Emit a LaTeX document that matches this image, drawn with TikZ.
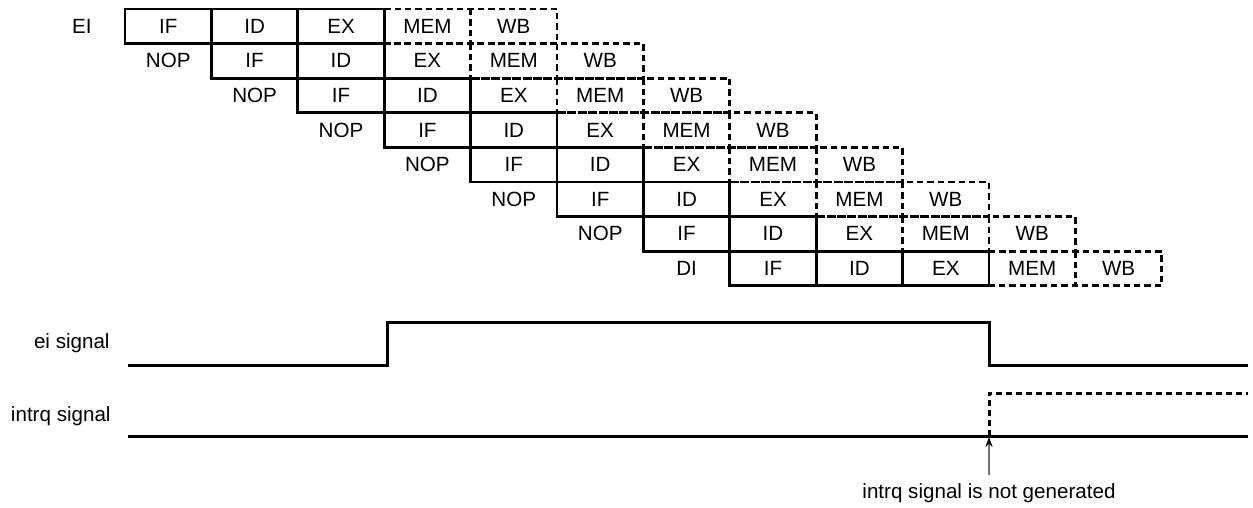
\documentclass[tikz,border=0pt]{standalone}
\usepackage{fontspec}
\setmainfont{Liberation Sans}
\usetikzlibrary{arrows.meta}
\tikzset{
  solidline/.style={line width=1.4pt, line cap=rect},
  dashline/.style={line width=1.4pt, dash pattern=on 3.2pt off 2pt},
  sigline/.style={line width=1.5pt},
  sigdash/.style={line width=1.5pt, dash pattern=on 3pt off 2pt},
  celltext/.style={inner sep=0pt, font=\fontsize{10.3}{12}\selectfont},
  sidelabel/.style={inner sep=0pt, anchor=east, font=\fontsize{10.3}{12}\selectfont},
  notearrow/.style={line width=0.7pt, draw=black!55, -{Stealth[black, length=5pt, width=3.6pt]}}
}
\begin{document}
\begin{tikzpicture}[x=0.5pt, y=-0.5pt]
\useasboundingbox (0,0) rectangle (1253,508);
\def\pw{86.4}
\def\rh{34.6}
% pipeline rows
\foreach \r/\lab in {0/EI,1/NOP,2/NOP,3/NOP,4/NOP,5/NOP,6/NOP,7/DI} {
  \pgfmathsetmacro{\xa}{125+\r*\pw}
  \pgfmathsetmacro{\xb}{\xa+\pw}
  \pgfmathsetmacro{\xc}{\xa+2*\pw}
  \pgfmathsetmacro{\xd}{\xa+3*\pw}
  \pgfmathsetmacro{\xe}{\xa+4*\pw}
  \pgfmathsetmacro{\xf}{\xa+5*\pw}
  \pgfmathsetmacro{\yt}{9+\r*\rh}
  \pgfmathsetmacro{\yb}{\yt+\rh}
  \pgfmathsetmacro{\ym}{\yt+\rh/2}
  % dashed part
  \ifnum\r=0
    \draw[dashline] (\xd,\yt) -- (\xf,\yt) -- (\xf,\yb) -- (\xd,\yb);
    \draw[dashline] (\xe,\yt) -- (\xe,\yb);
  \else\ifnum\r=7
    \draw[dashline] (\xd,\yt) -- (\xf,\yt) -- (\xf,\yb) -- (\xd,\yb);
    \draw[dashline] (\xe,\yt) -- (\xe,\yb);
  \else
    \draw[dashline] (\xc,\yt) -- (\xf,\yt) -- (\xf,\yb) -- (\xd,\yb);
    \draw[dashline] (\xd,\yt) -- (\xd,\yb);
    \draw[dashline] (\xe,\yt) -- (\xe,\yb);
  \fi\fi
  % solid part
  \ifnum\r=0
    \draw[solidline] (\xa,\yt) rectangle (\xd,\yb);
  \else\ifnum\r=7
    \draw[solidline] (\xa,\yt) rectangle (\xd,\yb);
  \else
    \draw[solidline] (\xc,\yt) -- (\xa,\yt) -- (\xa,\yb) -- (\xd,\yb);
  \fi\fi
  \draw[solidline] (\xb,\yt) -- (\xb,\yb);
  \draw[solidline] (\xc,\yt) -- (\xc,\yb);
  % texts
  \node[celltext] (lab\r) at ({\xa-\pw/2},\ym) {\lab};
  \node[celltext] (if\r)  at ({\xa+\pw/2},\ym) {IF};
  \node[celltext] (id\r)  at ({\xb+\pw/2},\ym) {ID};
  \node[celltext] (ex\r)  at ({\xc+\pw/2},\ym) {EX};
  \node[celltext] (mem\r) at ({\xd+\pw/2},\ym) {MEM};
  \node[celltext] (wb\r)  at ({\xe+\pw/2},\ym) {WB};
}
% signal labels
\node[sidelabel] (eilab) at (110,343) {ei signal};
\node[sidelabel] (intrqlab) at (111,416) {intrq signal};
% ei signal
\draw[sigline] (128,365) -- (387,365) -- (387,322) -- (989,322) -- (989,365) -- (1248,365);
% intrq signal
\draw[sigline] (128,436) -- (1248,436);
\draw[sigdash] (989,436) -- (989,393) -- (1248,393);
% note
\node[celltext] (note) at (989,493) {intrq signal is not generated};
\coordinate (tail) at (989,475);
\coordinate (tip) at (989,437);
\draw[notearrow] (tail) -- (tip);
\end{tikzpicture}
\end{document}
